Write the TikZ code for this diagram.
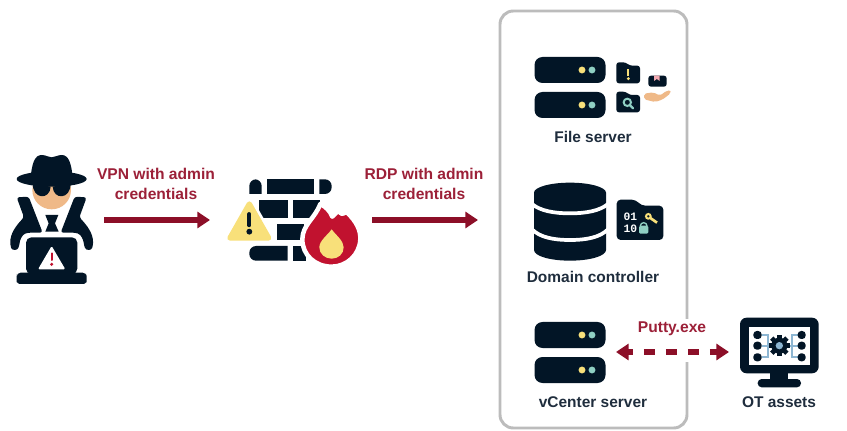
\documentclass[tikz,border=0pt]{standalone}
\usepackage{fontspec}
\setmainfont{Liberation Sans}
\newfontfamily\bitsfont{Liberation Mono}
\usetikzlibrary{arrows.meta}
\definecolor{ink}{HTML}{021526}
\definecolor{labelink}{HTML}{1F2D3D}
\definecolor{wine}{HTML}{8C0F28}
\definecolor{winetext}{HTML}{9C2038}
\definecolor{fire}{HTML}{C1122F}
\definecolor{sun}{HTML}{F8E07A}
\definecolor{mint}{HTML}{8FD0C4}
\definecolor{skin}{HTML}{EFB988}
\definecolor{frame}{HTML}{BCBCBC}
\definecolor{linkblue}{HTML}{8DB6D2}
\definecolor{ribbon}{HTML}{F2A9B0}
\tikzset{
  x=0.75pt,y=-0.75pt,
  zoomed/.style={x=0.25pt,y=-0.25pt},
  flowlabel/.style={font=\bfseries\fontsize{11.7pt}{15.6pt}\selectfont,text=winetext,align=center,inner sep=0pt},
  iconlabel/.style={font=\bfseries\fontsize{11.6pt}{14pt}\selectfont,text=labelink,inner sep=0pt},
  flowarrow/.style={draw=wine,line width=4.1pt,-{Triangle[length=9.5pt,width=12pt]}},
  linkarrow/.style={draw=wine,line width=4.1pt,dash pattern=on 8.25pt off 8.25pt,dash phase=4.5pt,
     {Triangle[length=9.5pt,width=12pt]}-{Triangle[length=9.5pt,width=12pt]}},
  rack/.pic={
    \fill[ink,rounded corners=6pt] (0,0) rectangle (71,26);
    \fill[sun] (47.5,13) circle (2.6pt);
    \fill[mint] (57.5,13) circle (2.6pt);
  }
}
\begin{document}
\begin{tikzpicture}
\useasboundingbox (0,0) rectangle (847,431);
\fill[white] (0,0) rectangle (847,431);

% server frame, open on the right where the Putty link crosses it
\draw[frame,line width=2.2pt,rounded corners=10pt]
  (687,319) -- (687,11) -- (500,11) -- (500,428) -- (687,428) -- (687,362);

% attacker
\begin{scope}[shift={(0,140)},zoomed]
  \fill[skin] (155,150) circle (58*0.25pt);
  \fill[ink] (92,112) .. controls (96,70) and (104,45) .. (125,45) .. controls (138,45) and (145,52) .. (155,52)
     .. controls (165,52) and (172,45) .. (185,45) .. controls (206,45) and (214,70) .. (218,112) -- cycle;
  \fill[ink] (155,117) ellipse (105*0.25pt and 23*0.25pt);
  \fill[ink] (98,130) .. controls (98,180) and (150,180) .. (152,140) -- cycle;
  \fill[ink] (212,130) .. controls (212,180) and (160,180) .. (158,140) -- cycle;
  \foreach \m/\o in {1/0,-1/310}{
    \begin{scope}[shift={(\o,0)},xscale=\m]
      \fill[ink,rounded corners=2pt] (50,172) -- (86,170) -- (128,278) -- (84,278)
         .. controls (66,284) and (60,300) .. (58,316) .. controls (52,332) and (36,332) .. (31,316)
         .. controls (30,280) and (50,255) .. (72,232) -- cycle;
    \end{scope}
  }
  \fill[ink] (136,225) -- (175,225) -- (165,250) -- (176,275) -- (136,275) -- (146,250) -- cycle;
  \fill[ink,rounded corners=4pt] (78,292) rectangle (232,402);
  \fill[ink,rounded corners=3pt] (50,398) -- (260,398) -- (260,414) .. controls (260,428) and (250,432) .. (240,432) -- (70,432) .. controls (60,432) and (50,428) .. (50,414) -- cycle;
  \fill[white,rounded corners=1pt] (155,318) -- (196,388) -- (114,388) -- cycle;
  \draw[fire,line width=1.5pt,line cap=round] (155,340) -- (155,360);
  \fill[fire] (155,373) circle (1.3pt);
\end{scope}

% firewall on fire
\begin{scope}[shift={(215,150)},zoomed]
  \fill[ink] (140,132) -- (103,132) {[rounded corners=5pt] -- (103,88) -- (140,88)} -- cycle;
  \fill[ink] (155,88) rectangle (297,132);
  \fill[ink] (313,132) -- (313,88) {[rounded corners=5pt] -- (350,88) -- (350,132)} -- cycle;
  \fill[ink] (133,150) rectangle (218,205);
  \fill[ink] (233,150) rectangle (315,205);
  \fill[ink] (185,222) rectangle (268,270);
  \fill[ink] (218,288) -- (218,332) {[rounded corners=5pt] -- (103,332) -- (103,288)} -- cycle;
  \fill[ink] (235,288) rectangle (272,332);
  % warning triangle
  \fill[white,draw=white,line width=8pt,line join=round] (103,162) -- (161,264) -- (45,264) -- cycle;
  \fill[sun,draw=sun,line width=4pt,line join=round] (103,162) -- (161,264) -- (45,264) -- cycle;
  \draw[ink,line width=2.8pt,line cap=round] (103,192) -- (103,226);
  \fill[ink] (103,245) circle (2.2pt);
  % flame
  \path[fill=fire,draw=white,line width=3.4pt,line join=round]
     (316,162) .. controls (332,170) and (345,182) .. (352,200)
     .. controls (358,192) and (365,186) .. (378,180)
     .. controls (372,190) and (378,196) .. (395,186)
     .. controls (425,215) and (437,240) .. (436,268)
     .. controls (434,315) and (395,350) .. (350,350)
     .. controls (300,350) and (262,315) .. (262,268)
     .. controls (262,225) and (300,205) .. (316,162) -- cycle;
  \fill[sun] (350,238) .. controls (362,255) and (386,272) .. (386,292)
     .. controls (386,312) and (370,326) .. (350,326)
     .. controls (330,326) and (313,312) .. (313,292)
     .. controls (313,272) and (338,255) .. (350,238) -- cycle;
\end{scope}

% file server
\pic at (534.5,57) {rack};
\pic at (534.5,92) {rack};
\begin{scope}[shift={(495,0)},zoomed]
  \fill[ink,rounded corners=2pt] (364,187) -- (392,187) -- (404,197) -- (435,197) -- (435,250) -- (364,250) -- cycle;
  \draw[sun,line width=1.6pt] (400,208) -- (400,228);
  \fill[sun] (400,236) circle (1.2pt);
  \fill[ink,rounded corners=2pt] (364,275) -- (392,275) -- (404,285) -- (435,285) -- (435,337) -- (364,337) -- cycle;
  \draw[mint,line width=1.5pt] (397,307) circle (11*0.25pt);
  \draw[mint,line width=1.7pt,line cap=round] (405,316) -- (414,325);
  \fill[ink,rounded corners=2pt] (460,227) rectangle (515,260);
  \fill[ribbon] (477,227) -- (494,227) -- (494,243) -- (485.5,237) -- (477,243) -- cycle;
  \fill[skin,rounded corners=1.5pt] (447,281) -- (475,277) -- (495,287) -- (515,272) -- (527,271)
     -- (527,280) -- (502,299) -- (480,306) -- (447,298) -- cycle;
\end{scope}
\node[iconlabel] (fileserver) at (593,137) {File server};

% domain controller
\begin{scope}[shift={(510,170)},zoomed]
  \fill[ink] (72,68) -- (72,240) .. controls (72,258) and (120,272) .. (180,272)
     .. controls (240,272) and (288,258) .. (288,240) -- (288,68) -- cycle;
  \fill[ink] (180,68) ellipse (108*0.25pt and 30*0.25pt);
  \draw[white,line width=2.8pt] (66,102) .. controls (90,122) and (130,130) .. (180,130)
     .. controls (230,130) and (270,122) .. (294,102);
  \draw[white,line width=2.8pt] (66,178) .. controls (90,202) and (130,210) .. (180,210)
     .. controls (230,210) and (270,202) .. (294,178);
  \fill[ink,rounded corners=3pt] (320,89) -- (377,89) -- (394,107) -- (460,107) -- (460,210) -- (320,210) -- cycle;
  \node[text=white,font=\bitsfont\bfseries\fontsize{8.5pt}{9pt}\selectfont,align=left,inner sep=0pt] (bits) at (361,158) {01\\10};
  \draw[sun,line width=1.5pt] (415,139) circle (7*0.25pt);
  \draw[sun,line width=2pt] (421,144) -- (441,158);
  \draw[mint,line width=1pt] (391,168) arc (180:0:10*0.25pt);
  \fill[mint,rounded corners=1pt] (387,167) rectangle (415,191);
\end{scope}
\node[iconlabel] (domain) at (593,277) {Domain controller};

% vCenter server
\pic at (534.5,322) {rack};
\pic at (534.5,357) {rack};
\node[iconlabel] (vcenter) at (593,402) {vCenter server};

% OT monitor
\begin{scope}[shift={(495,305)},zoomed]
  \fill[ink,rounded corners=5pt] (735,38) rectangle (971,205);
  \fill[white] (762,65) rectangle (945,180);
  \fill[ink] (825,205) rectangle (880,225);
  \fill[ink,rounded corners=3pt] (788,222) rectangle (918,247);
  \draw[linkblue,line width=1.3pt] (800,90) -| (818,122) |- (800,157) (800,122) -- (825,122);
  \draw[linkblue,line width=1.3pt] (908,90) -| (890,122) |- (908,157) (908,122) -- (883,122);
  \foreach \sy in {90,122,157}{
    \fill[ink,rounded corners=2.6pt] (775,\sy-12) rectangle (800,\sy+12);
    \fill[ink,rounded corners=2.6pt] (908,\sy-12) rectangle (932,\sy+12);
  }
  \fill[ink] (853,122) circle (24*0.25pt);
  \foreach \a in {0,45,...,315}{
    \fill[ink,rotate around={\a:(853,122)}] (846,90) rectangle (860,104);
  }
  \fill[linkblue] (853,122) circle (11*0.25pt);
\end{scope}
\node[iconlabel] (otassets) at (779,402) {OT assets};

% anchors of the connectors
\coordinate (vpnstart) at (104,220);
\coordinate (vpnend) at (210,220);
\coordinate (rdpstart) at (372,220);
\coordinate (rdpend) at (478,220);
\coordinate (puttyleft) at (616,352);
\coordinate (puttyright) at (729,352);

\draw[flowarrow] (vpnstart) -- (vpnend);
\draw[flowarrow] (rdpstart) -- (rdpend);
\draw[linkarrow] (puttyleft) -- (puttyright);

\node[flowlabel] (vpnlabel) at (156,184) {VPN with admin\\credentials};
\node[flowlabel] (rdplabel) at (424,184) {RDP with admin\\credentials};
\node[flowlabel] (puttylabel) at (672,329) {Putty.exe};
\end{tikzpicture}
\end{document}
